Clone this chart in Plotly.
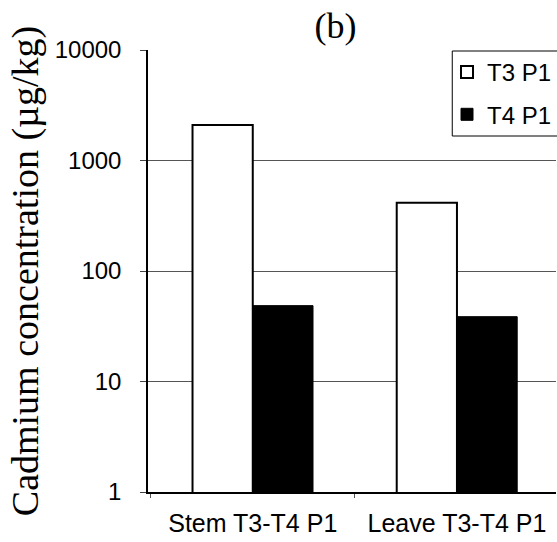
import plotly.graph_objects as go

categories = ["Stem T3-T4 P1", "Leave T3-T4 P1"]
series_names = ["T3 P1", "T4 P1"]
t3_values = [2100, 414]
t4_values = [48.6, 38.6]
y_tickvals = [1, 10, 100, 1000, 10000]
y_ticktext = ["1", "10", "100", "1000", "10000"]

SANS = "Liberation Sans, Arial, sans-serif"
SERIF = "Liberation Serif, Times New Roman, serif"

fig = go.Figure()
fig.add_trace(go.Bar(
    x=categories, y=t3_values, name=series_names[0], legendgroup="a",
    marker=dict(color="white", line=dict(color="black", width=2)),
))
fig.add_trace(go.Bar(
    x=categories, y=t4_values, name=series_names[1], legendgroup="b",
    marker=dict(color="black", line=dict(color="black", width=1)),
))

fig.update_layout(
    width=557, height=542,
    margin=dict(l=148, r=0, t=50, b=50),
    paper_bgcolor="white", plot_bgcolor="white",
    barmode="group", bargap=0.41, bargroupgap=0,
    showlegend=True,
    legend=dict(
        x=0.733, y=1.0, xanchor="left", yanchor="top",
        bgcolor="rgba(0,0,0,0)", borderwidth=0,
        font=dict(family=SANS, size=24, color="black"),
        tracegroupgap=8,
    ),
    title=dict(
        text="(b)", xref="paper", x=(336 - 148) / 409, xanchor="center",
        y=1 - 25 / 542, yanchor="middle",
        font=dict(family=SERIF, size=36, color="black"),
    ),
    xaxis=dict(
        type="category", range=[-0.513, 1.485],
        showline=True, linecolor="black", linewidth=1.5,
        ticks="outside", tickson="boundaries", ticklen=4, tickcolor="#555",
        tickfont=dict(family=SANS, size=25, color="black"),
        ticklabelstandoff=8,
        showgrid=False,
    ),
    yaxis=dict(
        type="log", range=[0, 4],
        tickvals=y_tickvals, ticktext=y_ticktext,
        showline=True, linecolor="black", linewidth=1.5,
        ticks="outside", ticklen=6, tickcolor="#444",
        tickfont=dict(family=SANS, size=24, color="black"),
        ticklabelstandoff=14,
        showgrid=True, gridcolor="#555", gridwidth=1,
        title=dict(text="Cadmium concentration (µg/kg)",
                   font=dict(family=SERIF, size=38, color="black"), standoff=4),
    ),
)

# dotted look of the top frame line
fig.add_shape(type="line", xref="paper", yref="paper", x0=0.005, x1=(453 - 148) / 409,
              y0=1, y1=1, line=dict(color="white", width=1, dash="dot"), layer="above")

# legend frame (extends beyond the right edge like the cropped original)
fig.add_shape(type="rect", xref="paper", yref="paper",
              x0=(453 - 148) / 409, x1=1.2, y0=(492 - 136) / 442, y1=(492 - 51) / 442,
              line=dict(color="black", width=1), fillcolor="rgba(0,0,0,0)", layer="above")

fig.write_html("out.html")
